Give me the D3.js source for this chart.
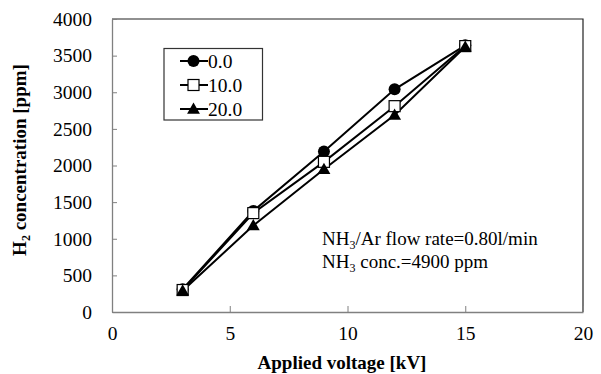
<!DOCTYPE html>
<html>
<head>
<meta charset="utf-8">
<script src="https://cdn.jsdelivr.net/npm/d3@7"></script>
<style>
  body { margin: 0; background: #fff; }
  svg text { font-family: "Liberation Serif", "Times New Roman", serif; }
</style>
</head>
<body>
<div id="chart"></div>
<script>
// data
const voltages = [3, 6, 9, 12, 15];
const seriesNames = ['0.0', '10.0', '20.0'];
const h2At0 = [310, 1380, 2190, 3040, 3640];
const h2At10 = [300, 1350, 2050, 2810, 3630];
const h2At20 = [290, 1180, 1950, 2690, 3620];
const xTicks = [0, 5, 10, 15, 20];
const yTicks = [0, 500, 1000, 1500, 2000, 2500, 3000, 3500, 4000];

const serif = '"Liberation Serif", "Times New Roman", serif';
const width = 601, height = 374;
const margin = { top: 19, right: 18, bottom: 62, left: 112 };
const w = width - margin.left - margin.right;
const h = height - margin.top - margin.bottom;

const svg = d3.select('#chart').append('svg')
  .attr('width', width)
  .attr('height', height)
  .attr('font-family', serif);

const g = svg.append('g')
  .attr('transform', 'translate(' + margin.left + ',' + margin.top + ')');

const x = d3.scaleLinear().domain([0, 20]).range([0, w]);
const y = d3.scaleLinear().domain([0, 4000]).range([h, 0]);

// plot frame: top and right edges
g.append('path')
  .attr('d', 'M0,0H' + w + 'V' + h)
  .attr('fill', 'none')
  .attr('stroke', '#222')
  .attr('stroke-width', 1.2);

// axes (ticks inward)
const xAxis = g.append('g')
  .attr('transform', 'translate(0,' + h + ')')
  .call(d3.axisBottom(x).tickValues(xTicks).tickFormat(d3.format('d'))
    .tickSizeInner(-6).tickSizeOuter(0).tickPadding(14));
const yAxis = g.append('g')
  .call(d3.axisLeft(y).tickValues(yTicks).tickFormat(d3.format('d'))
    .tickSizeInner(-5).tickSizeOuter(0).tickPadding(20));

[xAxis, yAxis].forEach(a => {
  a.attr('font-family', serif).attr('font-size', 19.5);
  a.select('.domain').attr('stroke', '#808080').attr('stroke-width', 1.3);
  a.selectAll('.tick line').attr('stroke', '#808080');
  a.selectAll('.tick text').attr('fill', '#000');
});

// axis titles
svg.append('text')
  .attr('x', 342)
  .attr('y', 369)
  .attr('text-anchor', 'middle')
  .attr('font-size', '19px')
  .attr('font-weight', 'bold')
  .text('Applied voltage [kV]');

const yt = svg.append('text')
  .attr('transform', 'translate(26,160) rotate(-90)')
  .attr('text-anchor', 'middle')
  .attr('font-size', '19px')
  .attr('font-weight', 'bold');
yt.append('tspan').text('H');
yt.append('tspan').attr('font-size', '12px').attr('dy', '4').text('2');
yt.append('tspan').attr('dy', '-4').text(' concentration [ppm]');

// series
const series = [
  { name: seriesNames[0], values: h2At0, marker: 'circle' },
  { name: seriesNames[1], values: h2At10, marker: 'square' },
  { name: seriesNames[2], values: h2At20, marker: 'triangle' }
];

const line = d3.line()
  .x((d, i) => x(voltages[i]))
  .y(d => y(d));

function drawMarker(sel, type, cx, cy) {
  if (type === 'circle') {
    sel.append('circle').attr('cx', cx).attr('cy', cy).attr('r', 6).attr('fill', '#000');
  } else if (type === 'square') {
    sel.append('rect').attr('x', cx - 5.5).attr('y', cy - 5.5).attr('width', 11).attr('height', 11)
      .attr('fill', '#fff').attr('stroke', '#000').attr('stroke-width', 1.2);
  } else {
    sel.append('path')
      .attr('d', d3.symbol(d3.symbolTriangle, 72)())
      .attr('transform', 'translate(' + cx + ',' + (cy + 1) + ')')
      .attr('fill', '#000');
  }
}

series.forEach(s => {
  g.append('path')
    .datum(s.values)
    .attr('d', line)
    .attr('fill', 'none')
    .attr('stroke', '#000')
    .attr('stroke-width', 2);
});
series.forEach(s => {
  const mg = g.append('g');
  s.values.forEach((v, i) => drawMarker(mg, s.marker, x(voltages[i]), y(v)));
});

// legend
const legend = svg.append('g');
legend.append('rect')
  .attr('x', 164).attr('y', 48.5)
  .attr('width', 98.5).attr('height', 71.5)
  .attr('fill', '#fff')
  .attr('stroke', '#333')
  .attr('stroke-width', 1.2);
series.forEach((s, i) => {
  const ly = 61 + i * 24;
  legend.append('line')
    .attr('x1', 180).attr('x2', 208)
    .attr('y1', ly).attr('y2', ly)
    .attr('stroke', '#000').attr('stroke-width', 2);
  drawMarker(legend, s.marker, 193.5, ly);
  legend.append('text')
    .attr('x', 208).attr('y', ly)
    .attr('dy', '0.35em')
    .attr('font-size', '19.5px')
    .text(s.name);
});

// annotation
const note1 = svg.append('text').attr('x', 322).attr('y', 245).attr('font-size', '19px');
note1.append('tspan').text('NH');
note1.append('tspan').attr('font-size', '12px').attr('dy', '4').text('3');
note1.append('tspan').attr('dy', '-4').text('/Ar flow rate=0.80l/min');
const note2 = svg.append('text').attr('x', 322).attr('y', 268).attr('font-size', '19px');
note2.append('tspan').text('NH');
note2.append('tspan').attr('font-size', '12px').attr('dy', '4').text('3');
note2.append('tspan').attr('dy', '-4').text(' conc.=4900 ppm');
</script>
</body>
</html>
